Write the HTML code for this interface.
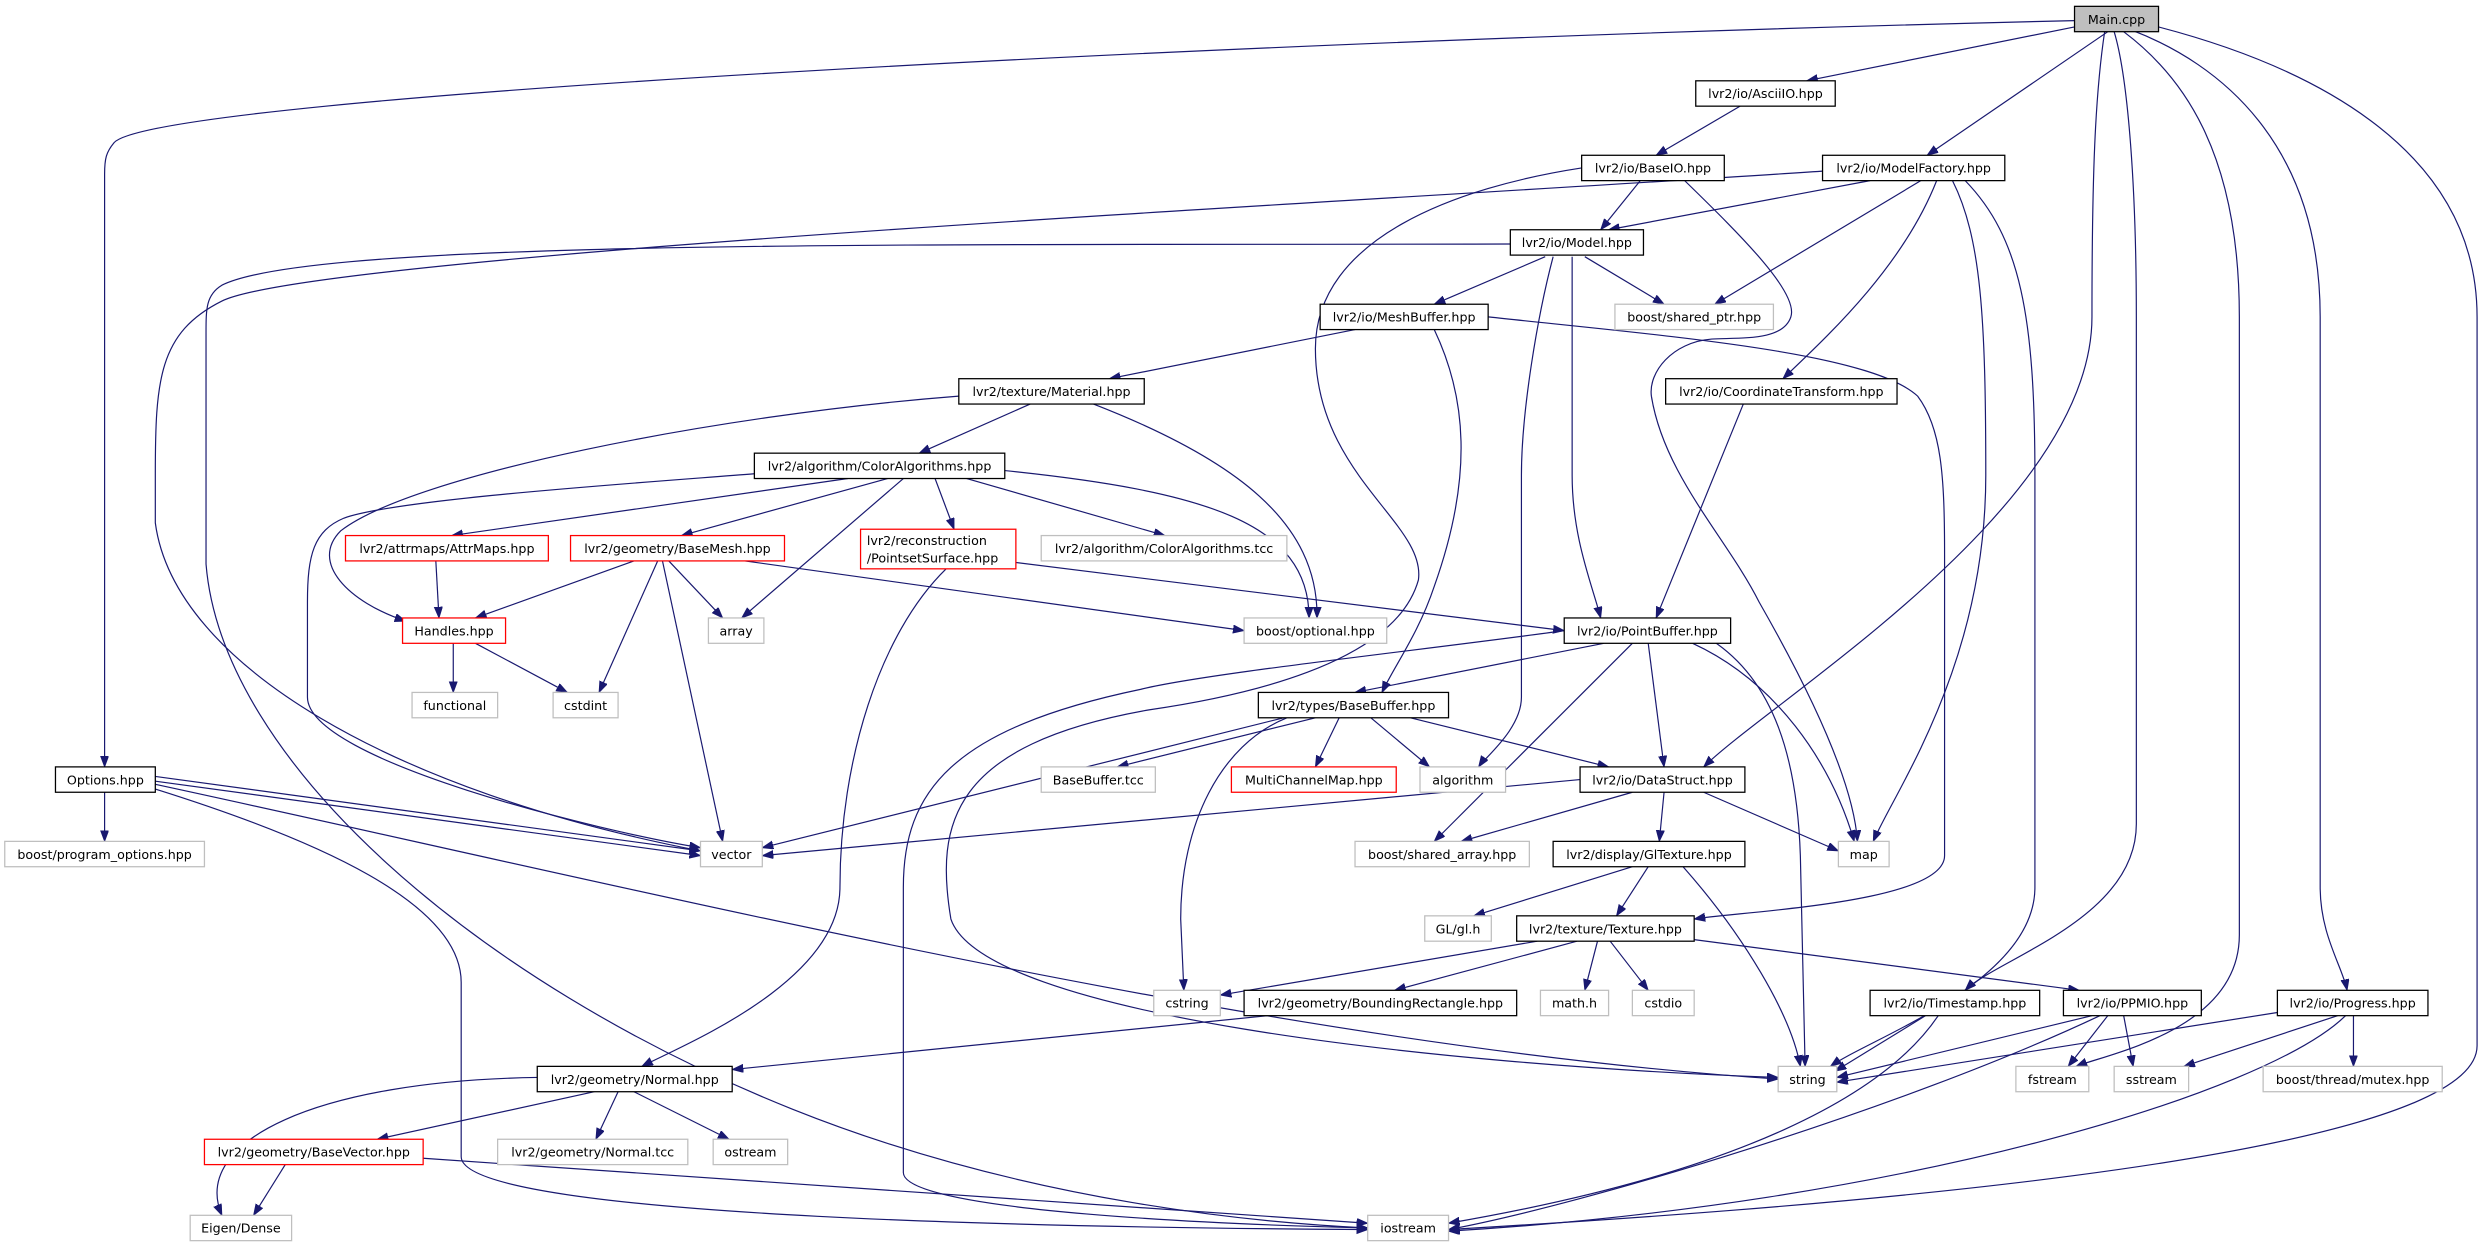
<!DOCTYPE html>
<html><head><meta charset="utf-8"><style>
html,body{margin:0;padding:0;background:#fff;}
svg{display:block;}
text{font-family:"DejaVu Sans","Liberation Sans",sans-serif;font-size:8px;fill:#000;}
.n{fill:#fff;stroke:#000;stroke-width:0.8;}
.g{fill:#fff;stroke:#bfbfbf;stroke-width:0.8;}
.r{fill:#fff;stroke:#ff0000;stroke-width:0.8;}
.e{fill:none;stroke:#191970;stroke-width:0.75;marker-end:url(#a);}
</style></head><body>
<svg width="2485" height="1247" viewBox="0 0 1568 787" preserveAspectRatio="none" xmlns="http://www.w3.org/2000/svg">
<defs><marker id="a" markerUnits="userSpaceOnUse" markerWidth="9" markerHeight="7" refX="7" refY="2.6" orient="auto"><path d="M0,0 L7,2.6 L0,5.2 z" fill="#191970" stroke="#191970" stroke-width="0.5"/></marker></defs>
<g>
<path class="e" d="M1309,13 C800,25 100,60 72,90 C67,96 66,100 66,110 L66,484"/>
<path class="e" d="M1309,17 L1140,51"/>
<path class="e" d="M1330,20 L1216,98"/>
<path class="e" d="M1328,20 C1322,60 1320,110 1320,200 C1320,320 1120,440 1075,484"/>
<path class="e" d="M1334,20 C1343,50 1348,120 1348,200 L1348,520 C1348,580 1260,605 1240,625"/>
<path class="e" d="M1340,20 C1380,50 1413,100 1413,200 L1413,590 C1413,650 1330,665 1310,673"/>
<path class="e" d="M1345,19 C1400,40 1464,90 1464,200 L1464,560 C1464,590 1478,610 1481,625"/>
<path class="e" d="M1362,17 C1450,40 1563,90 1563,200 L1563,660 C1563,735 1100,765 914,776"/>
<path class="e" d="M1098,67 L1045,98"/>
<path class="e" d="M1035,114 L1010,145"/>
<path class="e" d="M1063,114 C1100,150 1135,185 1130,200 C1125,215 1100,213 1080,214 C1055,216 1040,235 1042,250 C1050,300 1090,340 1110,380 C1150,450 1170,500 1172,531"/>
<path class="e" d="M998,106 C920,118 830,150 830,220 C830,300 900,330 895,366 C880,420 780,440 725,448 C600,470 590,520 600,580 C620,640 900,672 1122,680"/>
<path class="e" d="M1180,114 L1015,145"/>
<path class="e" d="M1212,114 L1082,192"/>
<path class="e" d="M1222,114 C1200,170 1150,215 1125,239"/>
<path class="e" d="M1232,114 C1250,150 1253,200 1253,300 C1253,420 1195,500 1182,531"/>
<path class="e" d="M1240,114 C1275,150 1284,200 1284,300 L1284,560 C1284,620 1180,655 1155,673"/>
<path class="e" d="M1150,108 C900,125 200,160 140,190 C100,210 98,240 98,300 L98,330 C110,420 250,500 442,537"/>
<path class="e" d="M953,154 C600,155 200,150 140,180 C130,186 130,195 130,210 L130,356 C140,480 300,620 500,700 C650,760 800,772 863,775"/>
<path class="e" d="M975,162 L905,192"/>
<path class="e" d="M1000,162 L1050,192"/>
<path class="e" d="M980,162 C970,200 960,260 960,300 L960,440 C960,460 937,478 933,484"/>
<path class="e" d="M992,162 L992,300 C992,340 1005,370 1010,390"/>
<path class="e" d="M855,208 L700,239"/>
<path class="e" d="M905,208 C925,250 930,300 905,370 C895,400 880,420 872,437"/>
<path class="e" d="M939,200 C1050,212 1180,222 1210,250 C1225,270 1227,300 1227,350 L1227,540 C1227,570 1100,575 1069,580"/>
<path class="e" d="M1100,255 L1045,390"/>
<path class="e" d="M650,255 L580,286"/>
<path class="e" d="M690,255 C780,290 832,330 831,390"/>
<path class="e" d="M634,297 C760,310 826,330 826,390"/>
<path class="e" d="M605,250 C450,262 260,300 215,335 C195,355 220,380 256,392"/>
<path class="e" d="M535,302 L285,338"/>
<path class="e" d="M560,302 L430,338"/>
<path class="e" d="M570,302 L468,390"/>
<path class="e" d="M590,302 L602,334"/>
<path class="e" d="M610,302 L735,338"/>
<path class="e" d="M476,299 C400,305 250,315 217,327 C198,335 194,350 194,380 L194,440 C194,480 380,525 442,535"/>
<path class="e" d="M275,354 L277,390"/>
<path class="e" d="M400,354 L300,390"/>
<path class="e" d="M422,354 L456,390"/>
<path class="e" d="M415,354 L378,437"/>
<path class="e" d="M418,354 L456,531"/>
<path class="e" d="M470,354 L785,398"/>
<path class="e" d="M641,355 L987,398"/>
<path class="e" d="M597,359 C555,400 530,480 530,560 C530,620 430,660 405,673"/>
<path class="e" d="M286,406 L286,437"/>
<path class="e" d="M300,406 L358,437"/>
<path class="e" d="M1012,406 L855,437"/>
<path class="e" d="M1040,406 L1050,484"/>
<path class="e" d="M1030,406 L905,531"/>
<path class="e" d="M1068,406 C1120,430 1155,480 1170,531"/>
<path class="e" d="M1080,404 C1120,430 1134,480 1136,540 L1139,673"/>
<path class="e" d="M987,398 C900,410 760,425 720,435 C600,460 570,500 570,560 L570,740 C570,765 780,773 863,775"/>
<path class="e" d="M810,453 L481,535"/>
<path class="e" d="M830,453 L705,484"/>
<path class="e" d="M845,453 L830,484"/>
<path class="e" d="M865,453 L902,484"/>
<path class="e" d="M890,453 L1015,484"/>
<path class="e" d="M812,453 C770,470 745,520 745,580 L747,625"/>
<path class="e" d="M997,492 L481,540"/>
<path class="e" d="M1030,500 L922,531"/>
<path class="e" d="M1050,500 L1047,531"/>
<path class="e" d="M1075,500 L1160,537"/>
<path class="e" d="M1030,547 L930,578"/>
<path class="e" d="M1040,547 L1020,578"/>
<path class="e" d="M1062,547 C1100,590 1130,640 1136,673"/>
<path class="e" d="M970,594 L770,628"/>
<path class="e" d="M995,594 L880,625"/>
<path class="e" d="M1008,594 L1000,625"/>
<path class="e" d="M1016,594 L1040,625"/>
<path class="e" d="M1069,593 L1312,625"/>
<path class="e" d="M800,641 L462,675"/>
<path class="e" d="M1215,641 L1158,676"/>
<path class="e" d="M1223,641 C1190,690 1100,740 914,772"/>
<path class="e" d="M1320,641 L1159,680"/>
<path class="e" d="M1330,641 L1305,673"/>
<path class="e" d="M1340,641 L1346,673"/>
<path class="e" d="M1325,641 C1200,700 1000,760 914,776"/>
<path class="e" d="M1437,639 L1159,683"/>
<path class="e" d="M1475,641 L1378,673"/>
<path class="e" d="M1485,641 L1485,673"/>
<path class="e" d="M1480,641 C1430,690 1200,760 914,777"/>
<path class="e" d="M66,500 L66,531"/>
<path class="e" d="M98,490 L442,537"/>
<path class="e" d="M98,493 L442,540"/>
<path class="e" d="M98,495 C400,560 800,660 1122,681"/>
<path class="e" d="M98,498 C200,530 291,570 291,620 L291,730 C291,770 700,775 863,776"/>
<path class="e" d="M339,680 C200,682 120,720 140,767"/>
<path class="e" d="M375,689 L238,719"/>
<path class="e" d="M390,689 L376,719"/>
<path class="e" d="M400,689 L460,719"/>
<path class="e" d="M180,735 L160,767"/>
<path class="e" d="M267,731 L863,772"/>
</g>
<g>
<rect x="1309" y="4" width="53" height="16" style="fill:#bfbfbf;stroke:#000;stroke-width:0.8"/><text x="1335.5" y="15" text-anchor="middle">Main.cpp</text>
<rect class="n" x="1070" y="51" width="88" height="16"/><text x="1114" y="62" text-anchor="middle">lvr2/io/AsciiIO.hpp</text>
<rect class="n" x="998" y="98" width="90" height="16"/><text x="1043" y="109" text-anchor="middle">lvr2/io/BaseIO.hpp</text>
<rect class="n" x="1150" y="98" width="115" height="16"/><text x="1207.5" y="109" text-anchor="middle">lvr2/io/ModelFactory.hpp</text>
<rect class="n" x="953" y="145" width="84" height="16"/><text x="995" y="156" text-anchor="middle">lvr2/io/Model.hpp</text>
<rect class="g" x="1019" y="192" width="100" height="16"/><text x="1069" y="203" text-anchor="middle">boost/shared_ptr.hpp</text>
<rect class="n" x="833" y="192" width="106" height="16"/><text x="886" y="203" text-anchor="middle">lvr2/io/MeshBuffer.hpp</text>
<rect class="n" x="605" y="239" width="117" height="16"/><text x="663.5" y="250" text-anchor="middle">lvr2/texture/Material.hpp</text>
<rect class="n" x="1051" y="239" width="146" height="16"/><text x="1124" y="250" text-anchor="middle">lvr2/io/CoordinateTransform.hpp</text>
<rect class="n" x="476" y="286" width="158" height="16"/><text x="555" y="297" text-anchor="middle">lvr2/algorithm/ColorAlgorithms.hpp</text>
<rect class="r" x="218" y="338" width="128" height="16"/><text x="282" y="349" text-anchor="middle">lvr2/attrmaps/AttrMaps.hpp</text>
<rect class="r" x="360" y="338" width="135" height="16"/><text x="427.5" y="349" text-anchor="middle">lvr2/geometry/BaseMesh.hpp</text>
<rect class="r" x="543" y="334" width="98" height="25"/><text x="547" y="344">lvr2/reconstruction</text><text x="547" y="355">/PointsetSurface.hpp</text>
<rect class="g" x="657" y="338" width="155" height="16"/><text x="734.5" y="349" text-anchor="middle">lvr2/algorithm/ColorAlgorithms.tcc</text>
<rect class="r" x="254" y="390" width="65" height="16"/><text x="286.5" y="401" text-anchor="middle">Handles.hpp</text>
<rect class="g" x="447" y="390" width="35" height="16"/><text x="464.5" y="401" text-anchor="middle">array</text>
<rect class="g" x="785" y="390" width="90" height="16"/><text x="830" y="401" text-anchor="middle">boost/optional.hpp</text>
<rect class="n" x="987" y="390" width="105" height="16"/><text x="1039.5" y="401" text-anchor="middle">lvr2/io/PointBuffer.hpp</text>
<rect class="g" x="260" y="437" width="54" height="16"/><text x="287" y="448" text-anchor="middle">functional</text>
<rect class="g" x="349" y="437" width="41" height="16"/><text x="369.5" y="448" text-anchor="middle">cstdint</text>
<rect class="n" x="794" y="437" width="120" height="16"/><text x="854" y="448" text-anchor="middle">lvr2/types/BaseBuffer.hpp</text>
<rect class="n" x="35" y="484" width="63" height="16"/><text x="66.5" y="495" text-anchor="middle">Options.hpp</text>
<rect class="g" x="657" y="484" width="72" height="16"/><text x="693" y="495" text-anchor="middle">BaseBuffer.tcc</text>
<rect class="r" x="777" y="484" width="104" height="16"/><text x="829" y="495" text-anchor="middle">MultiChannelMap.hpp</text>
<rect class="g" x="896" y="484" width="54" height="16"/><text x="923" y="495" text-anchor="middle">algorithm</text>
<rect class="n" x="997" y="484" width="104" height="16"/><text x="1049" y="495" text-anchor="middle">lvr2/io/DataStruct.hpp</text>
<rect class="g" x="3" y="531" width="126" height="16"/><text x="66" y="542" text-anchor="middle">boost/program_options.hpp</text>
<rect class="g" x="442" y="531" width="39" height="16"/><text x="461.5" y="542" text-anchor="middle">vector</text>
<rect class="g" x="855" y="531" width="110" height="16"/><text x="910" y="542" text-anchor="middle">boost/shared_array.hpp</text>
<rect class="n" x="980" y="531" width="121" height="16"/><text x="1040.5" y="542" text-anchor="middle">lvr2/display/GlTexture.hpp</text>
<rect class="g" x="1160" y="531" width="32" height="16"/><text x="1176" y="542" text-anchor="middle">map</text>
<rect class="g" x="899" y="578" width="42" height="16"/><text x="920" y="589" text-anchor="middle">GL/gl.h</text>
<rect class="n" x="957" y="578" width="112" height="16"/><text x="1013" y="589" text-anchor="middle">lvr2/texture/Texture.hpp</text>
<rect class="g" x="728" y="625" width="42" height="16"/><text x="749" y="636" text-anchor="middle">cstring</text>
<rect class="n" x="785" y="625" width="172" height="16"/><text x="871" y="636" text-anchor="middle">lvr2/geometry/BoundingRectangle.hpp</text>
<rect class="g" x="972" y="625" width="43" height="16"/><text x="993.5" y="636" text-anchor="middle">math.h</text>
<rect class="g" x="1030" y="625" width="39" height="16"/><text x="1049.5" y="636" text-anchor="middle">cstdio</text>
<rect class="n" x="1180" y="625" width="107" height="16"/><text x="1233.5" y="636" text-anchor="middle">lvr2/io/Timestamp.hpp</text>
<rect class="n" x="1302" y="625" width="87" height="16"/><text x="1345.5" y="636" text-anchor="middle">lvr2/io/PPMIO.hpp</text>
<rect class="n" x="1437" y="625" width="95" height="16"/><text x="1484.5" y="636" text-anchor="middle">lvr2/io/Progress.hpp</text>
<rect class="n" x="339" y="673" width="123" height="16"/><text x="400.5" y="684" text-anchor="middle">lvr2/geometry/Normal.hpp</text>
<rect class="g" x="1122" y="673" width="37" height="16"/><text x="1140.5" y="684" text-anchor="middle">string</text>
<rect class="g" x="1272" y="673" width="46" height="16"/><text x="1295" y="684" text-anchor="middle">fstream</text>
<rect class="g" x="1334" y="673" width="47" height="16"/><text x="1357.5" y="684" text-anchor="middle">sstream</text>
<rect class="g" x="1428" y="673" width="113" height="16"/><text x="1484.5" y="684" text-anchor="middle">boost/thread/mutex.hpp</text>
<rect class="r" x="129" y="719" width="138" height="16"/><text x="198" y="730" text-anchor="middle">lvr2/geometry/BaseVector.hpp</text>
<rect class="g" x="314" y="719" width="120" height="16"/><text x="374" y="730" text-anchor="middle">lvr2/geometry/Normal.tcc</text>
<rect class="g" x="450" y="719" width="47" height="16"/><text x="473.5" y="730" text-anchor="middle">ostream</text>
<rect class="g" x="120" y="767" width="64" height="16"/><text x="152" y="778" text-anchor="middle">Eigen/Dense</text>
<rect class="g" x="863" y="767" width="51" height="16"/><text x="888.5" y="778" text-anchor="middle">iostream</text>
</g>
</svg>
</body></html>
